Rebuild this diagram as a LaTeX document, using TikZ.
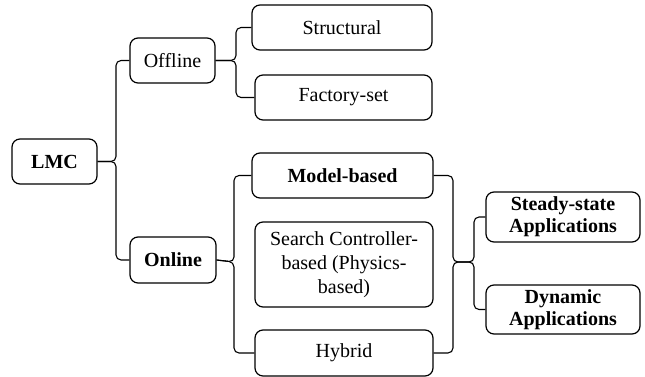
\documentclass[tikz,border=0pt]{standalone}
\usepackage{fontspec}
\setmainfont{Liberation Serif}
\usetikzlibrary{positioning, calc}

\begin{document}
\begin{tikzpicture}[x=1pt, y=-1pt,
    every node/.style={draw, rounded corners=8pt, line width=1.2pt, align=center,
        inner sep=2pt, font=\fontsize{20}{24}\selectfont},
    bold/.style={font=\fontsize{20}{22}\selectfont\bfseries},
    conn/.style={line width=1.1pt, rounded corners=5pt}]
    \useasboundingbox (0,0) rectangle (645,377);

    % boxes
    \node[bold, minimum width=85pt, minimum height=45pt] (lmc) at (54.5,161.5) {LMC};
    \node[minimum width=85pt, minimum height=45pt] (off) at (172.5,60.5) {Offline};
    \node[bold, minimum width=86pt, minimum height=46pt] (on) at (173,260) {Online};
    \node[minimum width=180pt, minimum height=45pt] (st) at (342,27.5) {Structural};
    \node[minimum width=177pt, minimum height=45pt] (fs) at (343.5,97.5) {Factory-set};
    \node[bold, minimum width=181pt, minimum height=45pt] (mb) at (342.5,175.5) {Model-based};
    \node[minimum width=178pt, minimum height=85pt] (sc) at (344,264.5)
        {Search Controller-\\based (Physics-\\based)};
    \node[minimum width=178pt, minimum height=46pt] (hy) at (344,353) {Hybrid};
    \node[bold, minimum width=154pt, minimum height=50pt] (ss) at (563,217)
        {Steady-state\\Applications};
    \node[bold, minimum width=154pt, minimum height=49pt] (dy) at (563,309.5)
        {Dynamic\\Applications};

    % brace points
    \coordinate (lmcb) at (116,161.5);
    \coordinate (offb) at (236,60.5);
    \coordinate (onb) at (234,262);
    \coordinate (appa) at (453,262);
    \coordinate (appb) at (474,262);

    % braces
    \draw[conn] (off.west) -| (lmcb) -- (lmc.east);
    \draw[conn] (on.west) -| (lmcb) -- (lmc.east);
    \draw[conn] (st.west) -| (offb) -- (off.east);
    \draw[conn] (fs.west) -| (offb) -- (off.east);
    \draw[conn] (mb.west) -| (onb) -- (on.east);
    \draw[conn] (hy.west) -| (onb) -- (on.east);
    \draw[conn] (mb.east) -| (appa) -- (appb) |- (ss.west);
    \draw[conn] (hy.east) -| (appa) -- (appb) |- (dy.west);
\end{tikzpicture}
\end{document}
